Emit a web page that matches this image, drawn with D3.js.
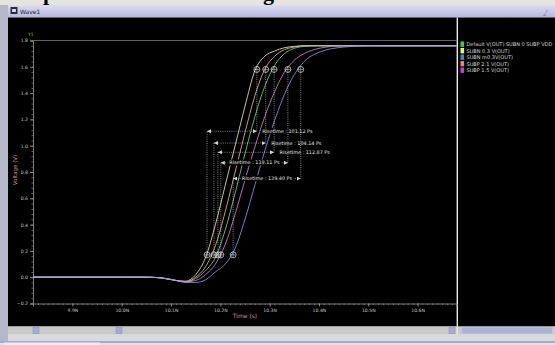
<!DOCTYPE html>
<html>
<head>
<meta charset="utf-8">
<script src="https://cdn.jsdelivr.net/npm/d3@7"></script>
<style>
  html, body { margin: 0; padding: 0; background: #e6e4df; overflow: hidden; }
  svg { display: block; font-family: "DejaVu Sans", sans-serif; }
</style>
</head>
<body>
<div id="app"></div>
<script>
// time grid (ns), shared by all traces
const timeNs = [9.82, 10.00, 10.05, 10.08, 10.11, 10.13, 10.15, 10.17, 10.19, 10.21, 10.23,
                10.25, 10.27, 10.29, 10.31, 10.33, 10.35, 10.37, 10.40, 10.45, 10.50, 10.68];

// V(OUT) for each run
const vDefault = [0, 0, 0, -0.005, -0.025, -0.035, -0.01, 0.05, 0.15, 0.36, 0.64, 0.94, 1.22, 1.45, 1.61, 1.70, 1.74, 1.755, 1.76, 1.76, 1.76, 1.76];
const vSubn03  = [0, 0, 0, -0.005, -0.025, -0.03, 0.02, 0.15, 0.40, 0.70, 1.00, 1.30, 1.57, 1.68, 1.72, 1.745, 1.755, 1.76, 1.76, 1.76, 1.76, 1.76];
const vSubnM03 = [0, 0, 0, -0.005, -0.025, -0.04, -0.04, -0.02, 0.04, 0.10, 0.22, 0.44, 0.70, 0.96, 1.19, 1.39, 1.54, 1.64, 1.71, 1.75, 1.76, 1.76];
const vSubp21  = [0, 0, 0, -0.005, -0.025, -0.035, 0.0, 0.08, 0.24, 0.50, 0.80, 1.10, 1.38, 1.58, 1.68, 1.73, 1.75, 1.76, 1.76, 1.76, 1.76, 1.76];
const vSubp15  = [0, 0, 0, -0.005, -0.025, -0.035, -0.025, 0.02, 0.10, 0.25, 0.48, 0.74, 0.99, 1.22, 1.41, 1.56, 1.65, 1.70, 1.74, 1.76, 1.76, 1.76];

const legendNames = ['Default V(OUT) SUBN 0 SUBP VDD', 'SUBN 0.3 V(OUT)', 'SUBN m0.3V(OUT)', 'SUBP 2.1 V(OUT)', 'SUBP 1.5 V(OUT)'];
const legendValues = [vDefault, vSubn03, vSubnM03, vSubp21, vSubp15];
const legendColors = ['#46c846', '#eef07a', '#4a82cc', '#e48a6e', '#b84cc8'];
// traces look paler than the swatches on screen
const traceColors = ['#8ad88a', '#f4f4c4', '#9a9af0', '#f0bca8', '#d88ae0'];
const drawOrder = [1, 3, 0, 4, 2];

// risetime measurements (10% / 90% crossings, ns)
const riseStart = [10.173, 10.187, 10.195, 10.201, 10.226];
const riseEnd   = [10.274, 10.292, 10.309, 10.337, 10.363];
const riseLabel = ['101.12', '104.14', '112.87', '119.11', '139.40'];
const riseRowV  = [1.11, 1.02, 0.95, 0.87, 0.75];
const lowLevel = 0.17, highLevel = 1.58;

const xTicks = [9.9, 10.0, 10.1, 10.2, 10.3, 10.4, 10.5, 10.6];
const yTicks = [-0.2, 0, 0.2, 0.4, 0.6, 0.8, 1.0, 1.2, 1.4, 1.6, 1.8];
const cursorY1 = 1.8;

const W = 555, H = 345;
const plot = { left: 33, right: 456.5, top: 40.5, bottom: 303.5 };

const svg = d3.select('#app').append('svg')
  .attr('width', W).attr('height', H);

const defs = svg.append('defs');
const grad = defs.append('linearGradient').attr('id', 'bar').attr('x1', 0).attr('y1', 0).attr('x2', 0).attr('y2', 1);
grad.append('stop').attr('offset', 0).attr('stop-color', '#dcdcf2');
grad.append('stop').attr('offset', 1).attr('stop-color', '#b6b6de');
defs.append('clipPath').attr('id', 'clip').append('rect')
  .attr('x', plot.left).attr('y', 18).attr('width', plot.right - plot.left).attr('height', plot.bottom - 18);
defs.append('marker').attr('id', 'arr')
  .attr('viewBox', '0 0 4 4').attr('refX', 4).attr('refY', 2)
  .attr('markerWidth', 4).attr('markerHeight', 4).attr('markerUnits', 'userSpaceOnUse')
  .attr('orient', 'auto-start-reverse')
  .append('path').attr('d', 'M0,0 L4,2 L0,4 Z').attr('fill', '#d8d8d8');

// page strip above the window (bits of the document title)
svg.append('rect').attr('width', W).attr('height', H).attr('fill', '#e6e4df');
svg.append('text').attr('x', 43).attr('y', 0).text('p')
  .style('font-family', 'Liberation Serif').style('font-weight', 'bold').style('font-size', '22px');
svg.append('text').attr('x', 263).attr('y', 0).text('g')
  .style('font-family', 'Liberation Serif').style('font-weight', 'bold').style('font-size', '22px');

// window frame
svg.append('rect').attr('x', 0).attr('y', 5).attr('width', 8).attr('height', 340).attr('fill', '#b4b8ca');
svg.append('rect').attr('x', 8).attr('y', 5).attr('width', W - 8).attr('height', 12.5).attr('fill', 'url(#bar)');
svg.append('rect').attr('x', 10.5).attr('y', 7).attr('width', 7).attr('height', 7).attr('fill', '#2a2a3a');
svg.append('rect').attr('x', 12).attr('y', 9).attr('width', 4).attr('height', 3).attr('fill', '#d0d0e8');
svg.append('text').attr('x', 20).attr('y', 14).text('Wave1')
  .style('font-size', '6px').attr('fill', '#202030');
svg.append('text').attr('x', 543).attr('y', 15).text('⌟⌜')
  .style('font-size', '6px').attr('fill', '#404050');

svg.append('rect').attr('x', 8).attr('y', 17.5).attr('width', W - 8).attr('height', 309).attr('fill', '#000');
svg.append('line').attr('x1', 457.3).attr('x2', 457.3).attr('y1', 17.5).attr('y2', 334)
  .attr('stroke', '#e8e8f0').attr('stroke-width', 1.4);

// scrollbars and bottom strip
svg.append('rect').attr('x', 8).attr('y', 326.5).attr('width', 448.5).attr('height', 8).attr('fill', '#c9c9cc');
[[33, 6], [116, 6], [449, 6]].forEach(([bx, bw]) => {
  svg.append('rect').attr('x', bx).attr('y', 327.5).attr('width', bw).attr('height', 6)
    .attr('fill', '#a8a8d4').attr('stroke', '#8888b8').attr('stroke-width', 0.5);
});
svg.append('rect').attr('x', 458).attr('y', 326.5).attr('width', 97).attr('height', 8).attr('fill', '#c9c9cc');
svg.append('rect').attr('x', 462).attr('y', 327.5).attr('width', 90).attr('height', 6).attr('fill', '#b0b0dc');
svg.append('rect').attr('x', 8).attr('y', 334.5).attr('width', W - 8).attr('height', 7).attr('fill', '#dadadc');
svg.append('rect').attr('x', 0).attr('y', 341).attr('width', W).attr('height', 2).attr('fill', '#a8a8c8');
svg.append('rect').attr('x', 0).attr('y', 343).attr('width', W).attr('height', 2).attr('fill', '#e2e2ea');
svg.append('rect').attr('x', 4).attr('y', 342.5).attr('width', 96).attr('height', 2.5).attr('fill', '#ececf2');

// scales
const x = d3.scaleLinear().domain([9.82, 10.679]).range([plot.left, plot.right]);
const y = d3.scaleLinear().domain([-0.2, 1.8]).range([plot.bottom, plot.top]);

const axisColor = '#9c9c9c';
const labelColor = '#c8c8c8';

// minor ticks
svg.append('g').attr('transform', `translate(0,${plot.bottom})`)
  .call(d3.axisBottom(x).tickValues(d3.range(9.83, 10.675, 0.01)).tickSize(1.6).tickFormat(''))
  .call(g => g.select('.domain').remove())
  .call(g => g.selectAll('line').attr('stroke', axisColor).attr('stroke-width', 0.6));
svg.append('g').attr('transform', `translate(${plot.left},0)`)
  .call(d3.axisLeft(y).tickValues(d3.range(-0.2, 1.81, 0.04)).tickSize(1.6).tickFormat(''))
  .call(g => g.select('.domain').remove())
  .call(g => g.selectAll('line').attr('stroke', axisColor).attr('stroke-width', 0.6));

// main axes
const xAxis = svg.append('g').attr('transform', `translate(0,${plot.bottom})`)
  .call(d3.axisBottom(x).tickValues(xTicks).tickSize(3).tickPadding(1.8).tickFormat(d => d.toFixed(1) + 'N'));
const yAxis = svg.append('g').attr('transform', `translate(${plot.left},0)`)
  .call(d3.axisLeft(y).tickValues(yTicks).tickSize(3).tickPadding(2).tickFormat(d3.format('.1f')));
[xAxis, yAxis].forEach(a => {
  a.select('.domain').attr('stroke', axisColor).attr('stroke-width', 0.8);
  a.selectAll('line').attr('stroke', axisColor).attr('stroke-width', 0.8);
  a.selectAll('text').attr('fill', labelColor).style('font-size', '4.6px').style('font-family', 'DejaVu Sans');
});

svg.append('text').attr('x', 245).attr('y', 318).attr('text-anchor', 'middle')
  .text('Time (s)').attr('fill', '#c898a8').style('font-size', '6px');
svg.append('text').attr('transform', 'translate(17,170) rotate(-90)').attr('text-anchor', 'middle')
  .text('Voltage (V)').attr('fill', '#c898a8').style('font-size', '5.5px');

// Y1 cursor
svg.append('line').attr('x1', plot.left).attr('x2', 456.5)
  .attr('y1', y(cursorY1)).attr('y2', y(cursorY1))
  .attr('stroke', '#6a6a6a').attr('stroke-width', 0.9);
svg.append('text').attr('x', 28).attr('y', 36).text('Y1')
  .attr('fill', '#5cc85c').style('font-size', '4.5px');

// traces
const line = d3.line()
  .x((d, i) => x(timeNs[i]))
  .y(d => y(d))
  .curve(d3.curveMonotoneX);

svg.append('g').attr('clip-path', 'url(#clip)')
  .selectAll('path')
  .data(drawOrder)
  .join('path')
    .attr('d', k => line(legendValues[k]))
    .attr('fill', 'none')
    .attr('stroke', k => traceColors[k])
    .attr('stroke-width', 0.9)
    .attr('stroke-opacity', 0.9);

// risetime markers
const meas = svg.append('g');
const mColor = '#d8d8d8';
riseLabel.forEach((lab, i) => {
  const x0 = x(riseStart[i]), x1 = x(riseEnd[i]);
  const yl = y(lowLevel), yh = y(highLevel), yr = y(riseRowV[i]);
  meas.append('line').attr('x1', x0).attr('x2', x0).attr('y1', yl - 3).attr('y2', yr)
    .attr('stroke', mColor).attr('stroke-width', 0.6).attr('stroke-dasharray', '1,1.2');
  meas.append('line').attr('x1', x1).attr('x2', x1).attr('y1', yh + 3).attr('y2', yr)
    .attr('stroke', mColor).attr('stroke-width', 0.6).attr('stroke-dasharray', '1,1.2');
  meas.append('line').attr('x1', x0).attr('x2', x1).attr('y1', yr).attr('y2', yr)
    .attr('stroke', mColor).attr('stroke-width', 0.6).attr('stroke-dasharray', '1,1.2')
    .attr('marker-start', 'url(#arr)').attr('marker-end', 'url(#arr)');

  [[x0, yl], [x1, yh]].forEach(([cx, cy]) => {
    meas.append('circle').attr('cx', cx).attr('cy', cy).attr('r', 3)
      .attr('fill', 'none').attr('stroke', '#e0e0e0').attr('stroke-width', 0.7);
    meas.append('path').attr('d', `M${cx - 3},${cy}H${cx + 3}M${cx},${cy - 3}V${cy + 3}`)
      .attr('stroke', '#e0e0e0').attr('stroke-width', 0.5);
  });

  const inside = (x1 - x0) > 60;
  const t = meas.append('text')
    .attr('x', inside ? (x0 + x1) / 2 : x1 + 5.5)
    .attr('y', yr + 1.7)
    .attr('text-anchor', inside ? 'middle' : 'start')
    .text(`Risetime : ${lab} Ps`)
    .attr('fill', '#e6e6e6').style('font-size', '4.9px');
  const bb = t.node().getBBox();
  meas.insert('rect', () => t.node())
    .attr('x', bb.x - 1).attr('y', bb.y).attr('width', bb.width + 2).attr('height', bb.height)
    .attr('fill', '#000');
});

// legend
const legend = svg.append('g').attr('transform', 'translate(460.5,41.5)');
legendNames.forEach((name, i) => {
  legend.append('rect').attr('x', 0).attr('y', i * 6.5).attr('width', 3.6).attr('height', 5.4)
    .attr('fill', legendColors[i]);
  legend.append('text').attr('x', 6).attr('y', i * 6.5 + 4.6).text(name)
    .attr('fill', '#d8d8d8').style('font-size', '5px');
});
</script>
</body>
</html>
